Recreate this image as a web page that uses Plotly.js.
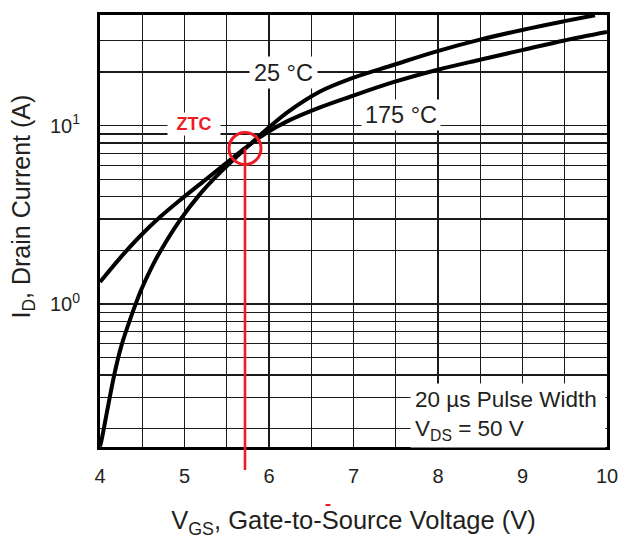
<!DOCTYPE html>
<html>
<head>
<meta charset="utf-8">
<script src="https://cdn.plot.ly/plotly-3.0.1.min.js"></script>
<style>html,body{margin:0;padding:0;background:#fff;}#chart{width:633px;height:550px;}</style>
</head>
<body>
<div id="chart"></div>
<script>
// ---- data ----
const vgs25 = [4.000, 4.020, 4.095, 4.174, 4.252, 4.370, 4.489, 4.607, 4.725, 4.947, 5.183, 5.420, 5.716, 5.953, 6.213, 6.604, 6.959, 7.471, 7.985, 8.497, 9.009, 9.483, 9.858];
const id25  = [0.159, 0.174, 0.267, 0.412, 0.581, 0.855, 1.205, 1.591, 2.018, 2.955, 4.133, 5.453, 7.406, 9.351, 11.84, 15.55, 18.29, 21.88, 26.08, 30.33, 34.50, 38.40, 41.59];
const vgs175 = [4.000, 4.237, 4.473, 4.710, 4.947, 5.243, 5.538, 5.716, 5.953, 6.213, 6.604, 6.959, 7.471, 7.985, 8.497, 9.009, 9.483, 10.0];
const id175  = [1.328, 1.810, 2.398, 3.072, 3.825, 4.952, 6.408, 7.479, 8.997, 10.56, 12.65, 14.52, 17.52, 20.51, 23.42, 26.59, 29.94, 33.49];

const xTickVals = [4, 5, 6, 7, 8, 9, 10];
const xTickText = ['4', '5', '6', '7', '8', '9', '10'];
const xMinorVals = [4.5, 5.5, 6.5, 7.5, 8.5, 9.5];
const yTickVals = [1, 10];
const yTickText = ['10<sup>0</sup>', '10<sup>1</sup>'];
const yMinorVals = [0.2, 0.3, 0.4, 0.5, 0.6, 0.7, 0.8, 0.9, 2, 3, 4, 5, 6, 7, 8, 9, 20, 30];

const ztcVgs = 5.716;
const ztcId = 7.45;

const xRange = [4, 10];
const yRange = [Math.log10(0.158), Math.log10(41.7)];

// ---- styling ----
const FONT = '"Liberation Sans", Arial, Helvetica, sans-serif';
const TXT = '#231f20';
const RED = '#ed1c24';
const GRID = '#1a1a1a';
const ztcPaperY = (Math.log10(ztcId) - yRange[0]) / (yRange[1] - yRange[0]);

const traces = [
  {x: vgs25, y: id25, mode: 'lines', name: '25 °C', line: {color: '#000', width: 4, shape: 'spline', smoothing: 1}},
  {x: vgs175, y: id175, mode: 'lines', name: '175 °C', line: {color: '#000', width: 4, shape: 'spline', smoothing: 1}}
];

const layout = {
  width: 633, height: 550,
  margin: {l: 100, r: 26, t: 15, b: 103},
  paper_bgcolor: '#fff', plot_bgcolor: '#fff',
  showlegend: false,
  font: {family: FONT, color: TXT},
  xaxis: {
    type: 'linear', range: xRange,
    tickmode: 'array', tickvals: xTickVals, ticktext: xTickText,
    minor: {tickmode: 'array', tickvals: xMinorVals, ticks: '', showgrid: true, gridcolor: GRID, gridwidth: 1.4},
    ticks: '', showgrid: true, gridcolor: GRID, gridwidth: 1.4,
    zeroline: false, showline: true, mirror: true, linecolor: '#000', linewidth: 3,
    tickfont: {family: FONT, size: 20, color: TXT},
    ticklabelstandoff: 9,
    title: {text: 'V<sub>GS</sub>, Gate-to-Source Voltage (V)', font: {family: FONT, size: 25.5, color: TXT}, standoff: 26}
  },
  yaxis: {
    type: 'log', range: yRange,
    tickmode: 'array', tickvals: yTickVals, ticktext: yTickText,
    minor: {tickmode: 'array', tickvals: yMinorVals, ticks: '', showgrid: true, gridcolor: GRID, gridwidth: 1.4},
    ticks: '', showgrid: true, gridcolor: GRID, gridwidth: 1.4,
    zeroline: false, showline: true, mirror: true, linecolor: '#000', linewidth: 3,
    tickfont: {family: FONT, size: 20, color: TXT},
    ticklabelstandoff: 13
  },
  shapes: [
    {type: 'line', layer: 'above', xref: 'x', yref: 'paper', x0: ztcVgs, x1: ztcVgs, y0: -0.053, y1: ztcPaperY,
     line: {color: RED, width: 2.6}},
    {type: 'circle', layer: 'above', xref: 'x', yref: 'paper', xsizemode: 'pixel', ysizemode: 'pixel',
     xanchor: ztcVgs, yanchor: ztcPaperY, x0: -16, x1: 16, y0: -16, y1: 16,
     line: {color: RED, width: 3}},
    {type: 'rect', layer: 'above', xref: 'paper', yref: 'paper', x0: 0.4448, x1: 0.4546, y0: -0.1366, y1: -0.1319,
     fillcolor: RED, line: {width: 0}}
  ],
  annotations: [
    {xref: 'paper', yref: 'paper', x: -0.1538, y: 0.5567, xanchor: 'center', yanchor: 'middle', textangle: -90,
     showarrow: false, text: 'I<sub>D</sub>, Drain Current (A)', font: {family: FONT, size: 25, color: TXT}},
    {xref: 'paper', yref: 'paper', x: 0.3619, y: 0.8669, xanchor: 'center', yanchor: 'middle', showarrow: false,
     text: '25 °C', font: {family: FONT, size: 23.5, color: TXT}, bgcolor: '#fff', width: 61, height: 25, borderpad: 3},
    {xref: 'paper', yref: 'paper', x: 0.5937, y: 0.7685, xanchor: 'center', yanchor: 'middle', showarrow: false,
     text: '175 °C', font: {family: FONT, size: 23.5, color: TXT}, bgcolor: '#fff', width: 72, height: 24, borderpad: 3},
    {xref: 'paper', yref: 'paper', x: 0.1854, y: 0.7477, xanchor: 'center', yanchor: 'middle', showarrow: false,
     text: '<b>ZTC</b>', font: {family: FONT, size: 18, color: RED}, bgcolor: '#fff', width: 48, height: 18, borderpad: 2},
    {xref: 'paper', yref: 'paper', x: 0.6114, y: 0.1481, xanchor: 'left', yanchor: 'top', showarrow: false, align: 'left',
     text: '20 µs Pulse Width<br>V<sub>DS</sub> = 50 V', font: {family: FONT, size: 22.5, color: TXT},
     bgcolor: '#fff', width: 186, height: 55, borderpad: 4}
  ]
};

Plotly.newPlot('chart', traces, layout, {displayModeBar: false, staticPlot: true});
</script>
</body>
</html>
